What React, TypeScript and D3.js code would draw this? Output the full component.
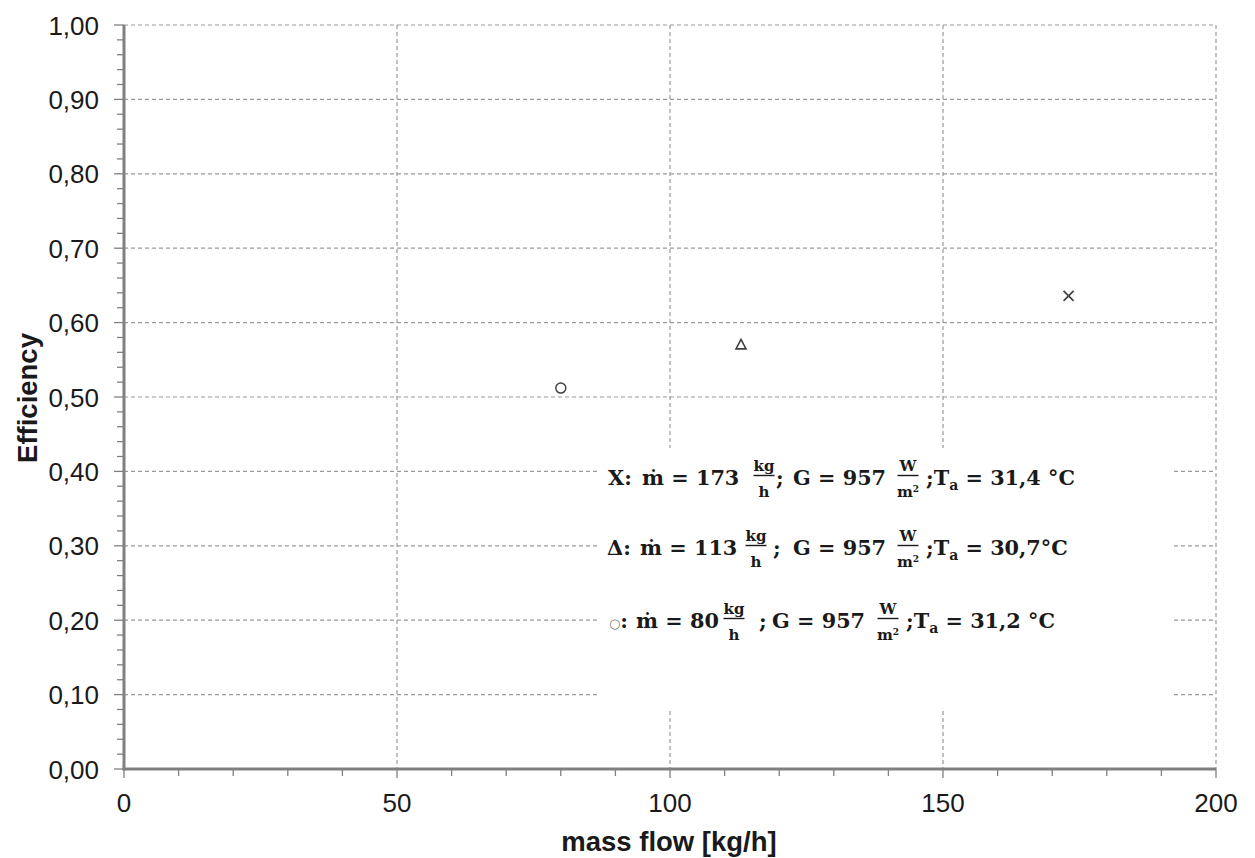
import React from "react";
import * as d3 from "d3";

const xDomain: [number, number] = [0, 200];
const yDomain: [number, number] = [0, 1];
const xTicks = [0, 50, 100, 150, 200];
const xMinorTicks = d3.range(0, 201, 10);
const yTicks = [0, 0.1, 0.2, 0.3, 0.4, 0.5, 0.6, 0.7, 0.8, 0.9, 1.0];
const yMinorTicks = d3.range(0, 51).map((i) => i * 0.02);

const pointShapes = ["cross", "triangle", "circle"];
const massFlow = [173, 113, 80];
const efficiency = [0.636, 0.57, 0.512];

const legendSymbols = ["X:", "Δ:", "○:"];
const legendMdot = ["173", "113", "80"];
const legendG = ["957", "957", "957"];
const legendTa = ["31,4 °C", "30,7°C", "31,2 °C"];

const xAxisTitle = "mass flow [kg/h]";
const yAxisTitle = "Efficiency";

// layout (pixel) constants for the legend rows
const rowLayout = [
  { base: 485, sym: 608, m: 642, f1: 764, semi: 776, g: 793, f2: 908, ta: 926 },
  { base: 555, sym: 607, m: 640, f1: 756, semi: 773, g: 793, f2: 908, ta: 926 },
  { base: 628, sym: 609, m: 636, f1: 734, semi: 759, g: 772, f2: 888, ta: 906 },
];

const W = 1255;
const H = 858;
const L = 124;
const R = 1216;
const T = 25;
const B = 769;

const AXIS = "#808080";
const GRID = "#9a9a9a";
const TEXT = "#1a1a1a";
const SERIF = "'DejaVu Serif', serif";
const SANS = "'Liberation Sans', Arial, sans-serif";
const LF = 20.8;

function Frac({ cx, base, num, den }: { cx: number; base: number; num: string; den: React.ReactNode }) {
  return (
    <g>
      <text x={cx} y={base - 14} textAnchor="middle" fontFamily={SERIF} fontWeight="bold" fontSize={15} fill={TEXT}>
        {num}
      </text>
      <line x1={cx - 10.5} x2={cx + 10.5} y1={base - 9.5} y2={base - 9.5} stroke={TEXT} strokeWidth={1.4} />
      <text x={cx} y={base + 11.5} textAnchor="middle" fontFamily={SERIF} fontWeight="bold" fontSize={15} fill={TEXT}>
        {den}
      </text>
    </g>
  );
}

export default function App() {
  const x = d3.scaleLinear().domain(xDomain).range([L, R]);
  const y = d3.scaleLinear().domain(yDomain).range([B, T]);
  const fmtY = (v: number) => d3.format(".2f")(v).replace(".", ",");

  const marker = (shape: string, cx: number, cy: number, i: number) => {
    const s = 5;
    if (shape === "cross")
      return (
        <path key={i} d={`M${cx - s},${cy - s}L${cx + s},${cy + s}M${cx - s},${cy + s}L${cx + s},${cy - s}`} stroke="#404040" strokeWidth={1.7} fill="none" />
      );
    if (shape === "triangle")
      return (
        <path key={i} d={`M${cx},${cy - 5.5}L${cx + 5},${cy + 4}L${cx - 5},${cy + 4}Z`} stroke="#404040" strokeWidth={1.6} fill="none" />
      );
    return <circle key={i} cx={cx} cy={cy} r={5} stroke="#404040" strokeWidth={1.5} fill="none" />;
  };

  return (
    <svg width={W} height={H} style={{ position: "absolute", left: 0, top: 0, background: "#fff" }}>
      <rect x={0} y={0} width={W} height={H} fill="#fff" />
      {/* gridlines */}
      {yTicks.filter((v) => v > 0).map((v) => (
        <line key={"gy" + v} x1={L} x2={R} y1={y(v)} y2={y(v)} stroke={GRID} strokeWidth={1.2} strokeDasharray="4,3" />
      ))}
      {xTicks.filter((v) => v > 0).map((v) => (
        <line key={"gx" + v} x1={x(v)} x2={x(v)} y1={T} y2={B} stroke={GRID} strokeWidth={1.2} strokeDasharray="4,3" />
      ))}
      {/* legend background */}
      <rect x={597} y={448} width={577} height={262} fill="#fff" />

      {/* axes */}
      {yMinorTicks.map((v, i) => (
        <line key={"ym" + i} x1={L - (i % 5 === 0 ? 10 : 7)} x2={L} y1={y(v)} y2={y(v)} stroke={AXIS} strokeWidth={1.3} />
      ))}
      {xMinorTicks.map((v, i) => (
        <line key={"xm" + i} x1={x(v)} x2={x(v)} y1={B} y2={B + (i % 5 === 0 ? 9 : 7)} stroke={AXIS} strokeWidth={1.3} />
      ))}
      <line x1={L} x2={L} y1={T} y2={B + 1.5} stroke={AXIS} strokeWidth={3} />
      <line x1={L - 1.5} x2={R} y1={B} y2={B} stroke={AXIS} strokeWidth={3} />

      {/* tick labels */}
      {yTicks.map((v) => (
        <text key={"yl" + v} x={99} y={y(v) + 9.5} textAnchor="end" fontFamily={SANS} fontSize={26} fill={TEXT}>
          {fmtY(v)}
        </text>
      ))}
      {xTicks.map((v) => (
        <text key={"xl" + v} x={x(v)} y={812} textAnchor="middle" fontFamily={SANS} fontSize={26} fill={TEXT}>
          {String(v)}
        </text>
      ))}

      {/* axis titles */}
      <text x={669} y={851} textAnchor="middle" fontFamily={SANS} fontWeight="bold" fontSize={27.5} fill={TEXT}>
        {xAxisTitle}
      </text>
      <text transform="translate(37,398) rotate(-90)" textAnchor="middle" fontFamily={SANS} fontWeight="bold" fontSize={27.5} fill={TEXT}>
        {yAxisTitle}
      </text>

      {/* points */}
      {massFlow.map((m, i) => marker(pointShapes[i], x(m), y(efficiency[i]), i))}

      {/* legend text */}
      {rowLayout.map((r, i) => (
        <g key={"lg" + i}>
          {i === 2 ? (
            <text x={r.sym} y={r.base} fontFamily={SERIF} fontWeight="bold" fontSize={LF} fill={TEXT}>
              <tspan fontSize={13} fontWeight="normal" fill="#777">○</tspan>
              <tspan>:</tspan>
            </text>
          ) : (
            <text x={r.sym} y={r.base} fontFamily={SERIF} fontWeight="bold" fontSize={LF} fill={TEXT}>
              {legendSymbols[i]}
            </text>
          )}
          <text x={r.m} y={r.base} fontFamily={SERIF} fontWeight="bold" fontSize={LF} fill={TEXT}>
            {"ṁ = " + legendMdot[i]}
          </text>
          <Frac cx={r.f1} base={r.base} num="kg" den="h" />
          <text x={r.semi} y={r.base} fontFamily={SERIF} fontWeight="bold" fontSize={LF} fill={TEXT}>;</text>
          <text x={r.g} y={r.base} fontFamily={SERIF} fontWeight="bold" fontSize={LF} fill={TEXT}>
            {"G = " + legendG[i]}
          </text>
          <Frac cx={r.f2} base={r.base} num="W" den={<>m<tspan fontSize={9} dy={-5}>2</tspan></>} />
          <text x={r.ta} y={r.base} fontFamily={SERIF} fontWeight="bold" fontSize={LF} fill={TEXT}>
            <tspan>;T</tspan>
            <tspan fontSize={14} dy={5}>a</tspan>
            <tspan dy={-5}>{" = " + legendTa[i]}</tspan>
          </text>
        </g>
      ))}
    </svg>
  );
}
